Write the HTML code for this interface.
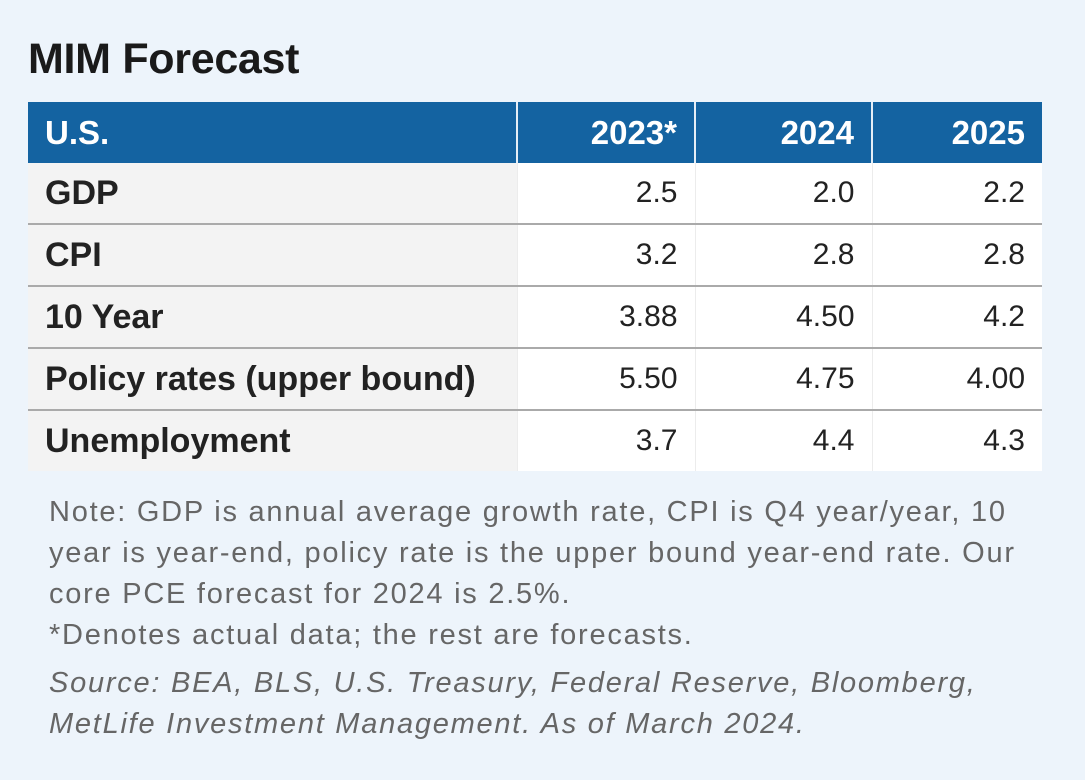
<!DOCTYPE html>
<html><head><style>
html,body{margin:0;padding:0}
body{width:1085px;height:780px;background:#edf4fb;font-family:"Liberation Sans",Arial,sans-serif;position:relative;overflow:hidden}
h1{position:absolute;left:28px;top:34px;margin:0;font-size:43px;line-height:50px;font-weight:bold;color:#1a1a1a;letter-spacing:-0.3px}
table{position:absolute;left:28px;top:102px;width:1014px;border-collapse:collapse;font-size:30px;color:#222;table-layout:fixed}
th{background:#1463a1;color:#fff;height:61px;padding:0 17px;text-align:right;font-weight:bold;font-size:33px;border-left:2px solid #e6eef6}
th:first-child{text-align:left;border-left:none}
td{height:60px;padding:0 17px;text-align:right;background:#fff;border-left:1px solid #ececec;border-top:2px solid #aaa}
tr:nth-child(2) td{border-top:none}
td:first-child{text-align:left;font-weight:bold;font-size:34px;background:#f3f3f3;border-left:none}
.c0{width:454px}.c1{width:142px}.c2{width:141px}
.note{position:absolute;left:49px;top:492px;width:1036px;font-size:29px;line-height:41px;color:#666;letter-spacing:1.75px}
.src{font-style:italic;margin-top:7px}
</style></head><body>
<h1>MIM Forecast</h1>
<table>
<tr><th class="c0">U.S.</th><th class="c1">2023*</th><th class="c2">2024</th><th>2025</th></tr>
<tr><td>GDP</td><td>2.5</td><td>2.0</td><td>2.2</td></tr>
<tr><td>CPI</td><td>3.2</td><td>2.8</td><td>2.8</td></tr>
<tr><td>10 Year</td><td>3.88</td><td>4.50</td><td>4.2</td></tr>
<tr><td>Policy rates (upper bound)</td><td>5.50</td><td>4.75</td><td>4.00</td></tr>
<tr><td>Unemployment</td><td>3.7</td><td>4.4</td><td>4.3</td></tr>
</table>
<div class="note">
Note: GDP is annual average growth rate, CPI is Q4 year/year, 10<br>
year is year-end, policy rate is the upper bound year-end rate. Our<br>
core PCE forecast for 2024 is 2.5%.<br>
*Denotes actual data; the rest are forecasts.
<div class="src">Source: BEA, BLS, U.S. Treasury, Federal Reserve, Bloomberg,<br>MetLife Investment Management. As of March 2024.</div>
</div>
</body></html>
